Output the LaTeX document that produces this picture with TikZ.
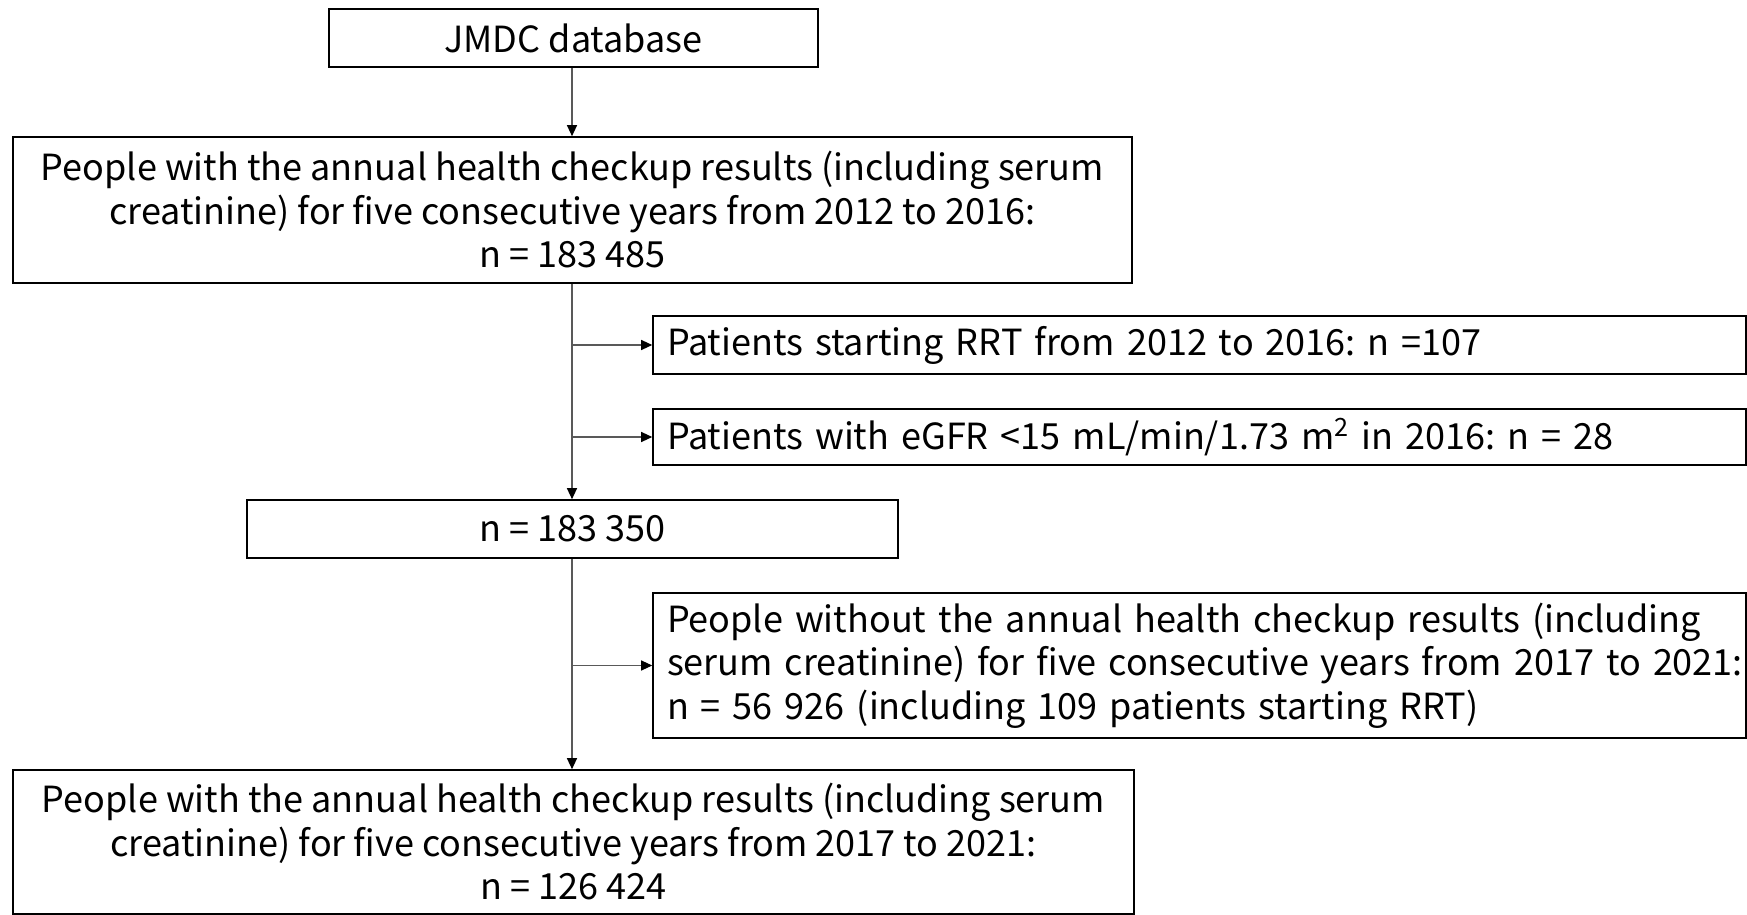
\documentclass[tikz,border=0pt]{standalone}
\usepackage{fontspec}
\setmainfont{Noto Sans CJK JP}
\usetikzlibrary{arrows.meta}
\frenchspacing
\begin{document}
\begin{tikzpicture}[x=0.5pt,y=-0.5pt,
  every node/.style={font=\fontsize{18pt}{21.75pt}\selectfont},
  box/.style={draw=black, line width=0.8pt, inner sep=0pt, align=center},
  sidebox/.style={draw=black, line width=0.8pt, inner ysep=0pt, inner xsep=0pt, text width=546.5pt, align=left, minimum width=546.5pt, execute at begin node={\leftskip=7pt\relax}},
  conn/.style={draw=black!65, line width=0.6pt},
  arr/.style={conn, -{Triangle[length=5.5pt,width=5pt,color=black]}}]
\useasboundingbox (0,0) rectangle (1747,915);
\node[box, minimum width=244.5pt, minimum height=29pt] (b1) at (573.5,38) {JMDC database};
\node[box, minimum width=559.5pt, minimum height=73pt] (b2) at (572.5,210) {People with the annual health checkup results (including serum\\ creatinine) for five consecutive years from 2012 to 2016:\\ n = 183 485};
\node[sidebox, minimum height=29pt] (sA) at (1199.5,345) {Patients starting RRT from 2012 to 2016: n =107};
\node[sidebox, minimum height=28pt] (sB) at (1199.5,437) {Patients with eGFR <15 mL/min/1.73 m\textsuperscript{2} in 2016: n = 28};
\node[box, minimum width=325.5pt, minimum height=29pt] (b3) at (572.5,529) {n = 183 350};
\node[sidebox, minimum height=72.5pt] (sC) at (1199.5,665.5) {People without the annual health checkup results (including\\ serum creatinine) for five consecutive years from 2017 to 2021:\\ n = 56 926 (including 109 patients starting RRT)};
\node[box, minimum width=560.5pt, minimum height=72pt] (b4) at (573.5,842) {People with the annual health checkup results (including serum\\ creatinine) for five consecutive years from 2017 to 2021:\\ n = 126 424};
\coordinate (v) at (572,0);
\draw[arr] (v |- b1.south) -- (v |- b2.north);
\draw[arr] (v |- b2.south) -- (v |- b3.north);
\draw[arr] (v |- sA.west) -- (sA.west);
\draw[arr] (v |- sB.west) -- (sB.west);
\draw[arr] (v |- b3.south) -- (v |- b4.north);
\draw[arr] (v |- sC.west) -- (sC.west);
\end{tikzpicture}
\end{document}
